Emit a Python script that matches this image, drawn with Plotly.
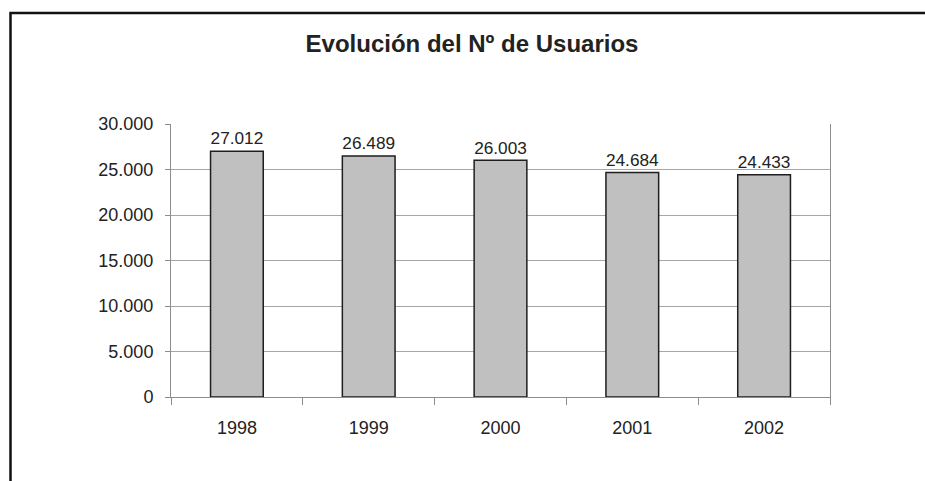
import plotly.graph_objects as go

# Número de usuarios por año
anios = ["1998", "1999", "2000", "2001", "2002"]
usuarios = [27012, 26489, 26003, 24684, 24433]
y_ticks = [0, 5000, 10000, 15000, 20000, 25000, 30000]

FONT = "Liberation Sans, Arial, sans-serif"
TEXT = "#222222"
GRID = "#a6a6a6"

# plot area in pixels
L, R, T, B = 171, 95, 124, 84
W, H = 925, 481
pw, ph = W - L - R, H - T - B


def px_x(p):
    return (p - L) / pw


def px_y(p):
    return (H - B - p) / ph


fig = go.Figure(
    go.Bar(
        x=anios,
        y=usuarios,
        marker=dict(color="#c0c0c0", line=dict(color="#1e1e1e", width=1.5)),
        texttemplate="%{y:,d}",
        textposition="outside",
        textfont=dict(family=FONT, size=18, color=TEXT),
        cliponaxis=False,
        hoverinfo="skip",
    )
)

# outer frame of the chart (top and left edges visible)
fig.add_shape(
    type="path",
    xref="paper",
    yref="paper",
    path=f"M {px_x(10.5)} {px_y(495)} L {px_x(10.5)} {px_y(13)} L {px_x(940)} {px_y(13)}",
    line=dict(color="#111111", width=2.5),
)

fig.update_layout(
    width=W,
    height=H,
    margin=dict(l=L, r=R, t=T, b=B),
    paper_bgcolor="white",
    plot_bgcolor="white",
    separators=",.",
    showlegend=False,
    bargap=0.6,
    title=dict(
        text="<b>Evolución del Nº de Usuarios</b>",
        font=dict(family=FONT, size=24, color=TEXT),
        x=472 / W,
        xanchor="center",
        y=1 - 44 / H,
        yanchor="middle",
    ),
    xaxis=dict(
        type="category",
        showline=True,
        linecolor="#8c8c8c",
        linewidth=1,
        ticks="outside",
        tickson="boundaries",
        ticklen=7,
        tickcolor="#8c8c8c",
        showgrid=False,
        tickfont=dict(family=FONT, size=18, color=TEXT),
        ticklabelstandoff=14,
        mirror=False,
    ),
    yaxis=dict(
        range=[0, 30000],
        tickvals=y_ticks,
        tickformat=",d",
        showline=True,
        linecolor="#8c8c8c",
        linewidth=1,
        mirror=True,
        ticks="outside",
        ticklen=5,
        tickcolor="#8c8c8c",
        showgrid=True,
        gridcolor=GRID,
        gridwidth=1,
        zeroline=False,
        tickfont=dict(family=FONT, size=18, color=TEXT),
        ticklabelstandoff=8,
    ),
)

fig.write_html("out.html")
